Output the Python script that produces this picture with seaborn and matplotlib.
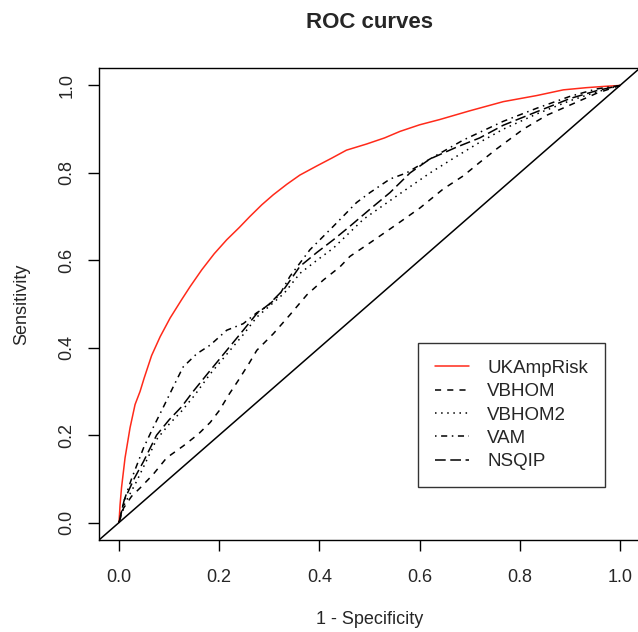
import matplotlib
matplotlib.use("Agg")
import matplotlib.pyplot as plt
import seaborn as sns
import pandas as pd

models = ["UKAmpRisk", "VBHOM", "VBHOM2", "VAM", "NSQIP"]

ukamprisk_fpr = [0, 0.002, 0.005, 0.012, 0.022, 0.032, 0.042, 0.05, 0.065, 0.082, 0.102, 0.125, 0.142,
                 0.165, 0.19, 0.215, 0.24, 0.261, 0.285, 0.308, 0.335, 0.361, 0.395, 0.425, 0.454, 0.494,
                 0.53, 0.561, 0.6, 0.64, 0.70, 0.767, 0.834, 0.887, 0.933, 0.97, 1.0]
ukamprisk_tpr = [0, 0.04, 0.08, 0.148, 0.217, 0.27, 0.30, 0.33, 0.382, 0.425, 0.468, 0.51, 0.54,
                 0.578, 0.615, 0.647, 0.675, 0.70, 0.727, 0.75, 0.774, 0.795, 0.816, 0.834, 0.852, 0.866,
                 0.88, 0.895, 0.91, 0.922, 0.942, 0.963, 0.977, 0.99, 0.995, 0.998, 1.0]

vbhom_fpr = [0, 0.009, 0.025, 0.042, 0.068, 0.095, 0.128, 0.158, 0.182, 0.20, 0.22, 0.238, 0.26, 0.275,
             0.308, 0.341, 0.375, 0.408, 0.441, 0.461, 0.501, 0.554, 0.601, 0.647, 0.687, 0.72, 0.754,
             0.807, 0.854, 0.90, 0.953, 1.0]
vbhom_tpr = [0, 0.033, 0.06, 0.079, 0.11, 0.148, 0.175, 0.202, 0.229, 0.256, 0.294, 0.325, 0.365, 0.394,
             0.432, 0.475, 0.521, 0.555, 0.585, 0.609, 0.64, 0.682, 0.72, 0.763, 0.793, 0.824, 0.855,
             0.90, 0.932, 0.955, 0.982, 1.0]

vbhom2_fpr = [0, 0.01, 0.035, 0.05, 0.075, 0.1, 0.125, 0.15, 0.182, 0.215, 0.248, 0.275, 0.30, 0.33,
              0.361, 0.395, 0.428, 0.488, 0.554, 0.621, 0.674, 0.72, 0.767, 0.834, 0.90, 0.953, 1.0]
vbhom2_tpr = [0, 0.04, 0.094, 0.13, 0.19, 0.225, 0.255, 0.29, 0.34, 0.385, 0.43, 0.47, 0.495, 0.525,
              0.57, 0.60, 0.628, 0.694, 0.747, 0.80, 0.838, 0.87, 0.90, 0.935, 0.965, 0.985, 1.0]

vam_fpr = [0, 0.01, 0.025, 0.049, 0.068, 0.088, 0.108, 0.128, 0.155, 0.182, 0.215, 0.248, 0.275, 0.295,
           0.32, 0.341, 0.381, 0.428, 0.474, 0.501, 0.541, 0.574, 0.621, 0.687, 0.767, 0.834, 0.90,
           0.953, 1.0]
vam_tpr = [0, 0.05, 0.10, 0.171, 0.217, 0.263, 0.31, 0.356, 0.386, 0.406, 0.44, 0.455, 0.48, 0.494,
           0.52, 0.563, 0.624, 0.678, 0.732, 0.755, 0.786, 0.80, 0.832, 0.875, 0.918, 0.948, 0.975,
           0.992, 1.0]

nsqip_fpr = [0, 0.01, 0.03, 0.049, 0.075, 0.1, 0.125, 0.148, 0.182, 0.215, 0.248, 0.275, 0.30, 0.33,
             0.361, 0.395, 0.428, 0.461, 0.501, 0.541, 0.581, 0.621, 0.674, 0.72, 0.767, 0.834, 0.90,
             0.953, 1.0]
nsqip_tpr = [0, 0.05, 0.10, 0.14, 0.20, 0.235, 0.265, 0.30, 0.348, 0.394, 0.44, 0.478, 0.50, 0.535,
             0.586, 0.618, 0.647, 0.678, 0.717, 0.755, 0.80, 0.832, 0.859, 0.88, 0.909, 0.94, 0.97,
             0.988, 1.0]

tick_values = [0.0, 0.2, 0.4, 0.6, 0.8, 1.0]
tick_labels = ["0.0", "0.2", "0.4", "0.6", "0.8", "1.0"]

series = {
    "UKAmpRisk": (ukamprisk_fpr, ukamprisk_tpr),
    "VBHOM": (vbhom_fpr, vbhom_tpr),
    "VBHOM2": (vbhom2_fpr, vbhom2_tpr),
    "VAM": (vam_fpr, vam_tpr),
    "NSQIP": (nsqip_fpr, nsqip_tpr),
}
frames = []
for m in models:
    fx, fy = series[m]
    frames.append(pd.DataFrame({"fpr": fx, "tpr": fy, "model": m}))
df = pd.concat(frames, ignore_index=True)

sns.set_theme(style="white")
plt.rcParams["font.family"] = ["Liberation Sans", "DejaVu Sans"]

fig = plt.figure(figsize=(6.38, 6.32), dpi=100)
ax = fig.add_axes([99 / 638, (632 - 540) / 632, (640 - 99) / 638, 472 / 632])

palette = {"UKAmpRisk": "#ff2a1a", "VBHOM": "black", "VBHOM2": "black", "VAM": "black", "NSQIP": "black"}
dashes = {"UKAmpRisk": "", "VBHOM": (4, 4), "VBHOM2": (1, 3), "VAM": (1, 3, 4, 3), "NSQIP": (7, 3)}

sns.lineplot(data=df, x="fpr", y="tpr", hue="model", style="model", hue_order=models,
             style_order=models, palette=palette, dashes=dashes, estimator=None, sort=False,
             linewidth=1.1, ax=ax)

ax.axline((0, 0), (1, 1), color="black", linewidth=1.1)

ax.set_xlim(-0.04, 1.04)
ax.set_ylim(-0.04, 1.04)
ax.set_xticks(tick_values)
ax.set_xticklabels(tick_labels)
ax.set_yticks(tick_values)
ax.set_yticklabels(tick_labels, rotation=90, va="center")
ax.tick_params(axis="x", pad=13)
ax.tick_params(axis="y", pad=9)
ax.tick_params(axis="both", direction="out", length=8, width=1.0, color="black",
               labelsize=13, bottom=True, left=True)
for s in ax.spines.values():
    s.set_color("black")
    s.set_linewidth(1.0)

ax.set_xlabel("1 - Specificity", fontsize=13, labelpad=18)
ax.set_ylabel("Sensitivity", fontsize=13, labelpad=20)
fig.text(369.5 / 638, 1 - 22 / 632, "ROC curves", fontsize=16, fontweight="bold",
         ha="center", va="center")

handles, labels = ax.get_legend_handles_labels()
leg = ax.legend(handles, labels, loc="upper left", bbox_to_anchor=((418 - 99) / 541, (540 - 343) / 472),
                borderaxespad=0, frameon=True, fancybox=False, edgecolor="black", fontsize=13.5,
                handlelength=1.8, handletextpad=1.0, labelspacing=0.33, borderpad=0.9)
leg.get_frame().set_linewidth(1.0)

fig.savefig("out.png", dpi=100)
